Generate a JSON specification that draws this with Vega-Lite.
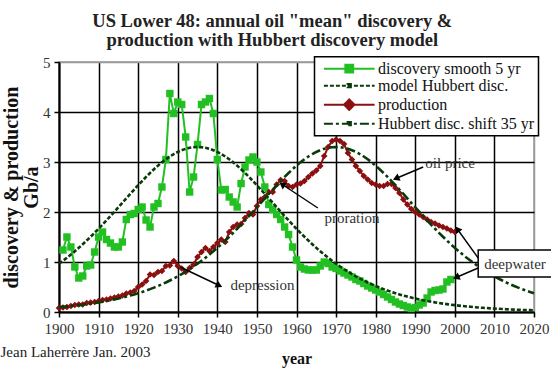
{
"$schema": "https://vega.github.io/schema/vega-lite/v6.json",
"width": 475, "height": 250,
"autosize": {"type": "none"},
"padding": {"left": 59, "top": 62, "right": 17, "bottom": 60},
"title": {"text": ["US Lower 48: annual oil \"mean\" discovery &", "production with Hubbert discovery model"], "font": "Liberation Serif", "fontSize": 18.5, "fontWeight": "bold", "color": "#222", "anchor": "middle", "frame": "bounds", "lineHeight": 19, "offset": 6, "dx": -4},
"datasets": {
"lines": [
{"s":"d","year":1901,"v":1.24},{"s":"d","year":1902,"v":1.5},{"s":"d","year":1903,"v":1.3},{"s":"d","year":1904,"v":0.9},{"s":"d","year":1905,"v":0.68},{"s":"d","year":1906,"v":0.72},{"s":"d","year":1907,"v":0.92},{"s":"d","year":1908,"v":0.94},{"s":"d","year":1909,"v":1.2},{"s":"d","year":1910,"v":1.5},
{"s":"d","year":1911,"v":1.6},{"s":"d","year":1912,"v":1.45},{"s":"d","year":1913,"v":1.38},{"s":"d","year":1914,"v":1.3},{"s":"d","year":1915,"v":1.3},{"s":"d","year":1916,"v":1.4},{"s":"d","year":1917,"v":1.85},{"s":"d","year":1918,"v":1.95},{"s":"d","year":1919,"v":1.97},{"s":"d","year":1920,"v":2.05},
{"s":"d","year":1921,"v":2.1},{"s":"d","year":1922,"v":1.84},{"s":"d","year":1923,"v":1.7},{"s":"d","year":1924,"v":2.1},{"s":"d","year":1925,"v":2.17},{"s":"d","year":1926,"v":2.5},{"s":"d","year":1927,"v":3.05},{"s":"d","year":1928,"v":4.37},{"s":"d","year":1929,"v":3.97},{"s":"d","year":1930,"v":4.2},
{"s":"d","year":1931,"v":4.15},{"s":"d","year":1932,"v":3.5},{"s":"d","year":1933,"v":2.4},{"s":"d","year":1934,"v":2.7},{"s":"d","year":1935,"v":3.35},{"s":"d","year":1936,"v":4.15},{"s":"d","year":1937,"v":4.2},{"s":"d","year":1938,"v":4.27},{"s":"d","year":1939,"v":3.97},{"s":"d","year":1940,"v":3.05},
{"s":"d","year":1941,"v":2.44},{"s":"d","year":1942,"v":2.45},{"s":"d","year":1943,"v":2.3},{"s":"d","year":1944,"v":2.2},{"s":"d","year":1945,"v":2.1},{"s":"d","year":1946,"v":2.57},{"s":"d","year":1947,"v":2.9},{"s":"d","year":1948,"v":3.04},{"s":"d","year":1949,"v":3.1},{"s":"d","year":1950,"v":3.0},
{"s":"d","year":1951,"v":2.8},{"s":"d","year":1952,"v":2.5},{"s":"d","year":1953,"v":2.15},{"s":"d","year":1954,"v":2.05},{"s":"d","year":1955,"v":1.95},{"s":"d","year":1956,"v":1.85},{"s":"d","year":1957,"v":1.7},{"s":"d","year":1958,"v":1.55},{"s":"d","year":1959,"v":1.3},{"s":"d","year":1960,"v":1.04},
{"s":"d","year":1961,"v":0.9},{"s":"d","year":1962,"v":0.86},{"s":"d","year":1963,"v":0.84},{"s":"d","year":1964,"v":0.84},{"s":"d","year":1965,"v":0.84},{"s":"d","year":1966,"v":0.92},{"s":"d","year":1967,"v":1.0},{"s":"d","year":1968,"v":0.97},{"s":"d","year":1969,"v":0.9},{"s":"d","year":1970,"v":0.87},
{"s":"d","year":1971,"v":0.82},{"s":"d","year":1972,"v":0.78},{"s":"d","year":1973,"v":0.74},{"s":"d","year":1974,"v":0.7},{"s":"d","year":1975,"v":0.65},{"s":"d","year":1976,"v":0.62},{"s":"d","year":1977,"v":0.57},{"s":"d","year":1978,"v":0.52},{"s":"d","year":1979,"v":0.48},{"s":"d","year":1980,"v":0.44},
{"s":"d","year":1981,"v":0.4},{"s":"d","year":1982,"v":0.35},{"s":"d","year":1983,"v":0.3},{"s":"d","year":1984,"v":0.25},{"s":"d","year":1985,"v":0.2},{"s":"d","year":1986,"v":0.16},{"s":"d","year":1987,"v":0.13},{"s":"d","year":1988,"v":0.1},{"s":"d","year":1989,"v":0.07},{"s":"d","year":1990,"v":0.09},
{"s":"d","year":1991,"v":0.14},{"s":"d","year":1992,"v":0.18},{"s":"d","year":1993,"v":0.28},{"s":"d","year":1994,"v":0.4},{"s":"d","year":1995,"v":0.43},{"s":"d","year":1996,"v":0.44},{"s":"d","year":1997,"v":0.46},{"s":"d","year":1998,"v":0.6},{"s":"d","year":1999,"v":0.65},
{"s":"p","year":1900,"v":0.08},{"s":"p","year":1901,"v":0.09},{"s":"p","year":1902,"v":0.1},{"s":"p","year":1903,"v":0.12},{"s":"p","year":1904,"v":0.14},{"s":"p","year":1905,"v":0.15},{"s":"p","year":1906,"v":0.15},{"s":"p","year":1907,"v":0.18},{"s":"p","year":1908,"v":0.19},{"s":"p","year":1909,"v":0.2},
{"s":"p","year":1910,"v":0.22},{"s":"p","year":1911,"v":0.24},{"s":"p","year":1912,"v":0.25},{"s":"p","year":1913,"v":0.27},{"s":"p","year":1914,"v":0.29},{"s":"p","year":1915,"v":0.31},{"s":"p","year":1916,"v":0.33},{"s":"p","year":1917,"v":0.37},{"s":"p","year":1918,"v":0.39},{"s":"p","year":1919,"v":0.42},
{"s":"p","year":1920,"v":0.5},{"s":"p","year":1921,"v":0.55},{"s":"p","year":1922,"v":0.62},{"s":"p","year":1923,"v":0.75},{"s":"p","year":1924,"v":0.74},{"s":"p","year":1925,"v":0.8},{"s":"p","year":1926,"v":0.82},{"s":"p","year":1927,"v":0.92},{"s":"p","year":1928,"v":0.93},{"s":"p","year":1929,"v":1.02},
{"s":"p","year":1930,"v":0.92},{"s":"p","year":1931,"v":0.87},{"s":"p","year":1932,"v":0.8},{"s":"p","year":1933,"v":0.88},{"s":"p","year":1934,"v":0.95},{"s":"p","year":1935,"v":1.1},{"s":"p","year":1936,"v":1.2},{"s":"p","year":1937,"v":1.28},{"s":"p","year":1938,"v":1.22},{"s":"p","year":1939,"v":1.3},
{"s":"p","year":1940,"v":1.38},{"s":"p","year":1941,"v":1.45},{"s":"p","year":1942,"v":1.4},{"s":"p","year":1943,"v":1.6},{"s":"p","year":1944,"v":1.7},{"s":"p","year":1945,"v":1.75},{"s":"p","year":1946,"v":1.76},{"s":"p","year":1947,"v":1.88},{"s":"p","year":1948,"v":1.98},{"s":"p","year":1949,"v":1.95},
{"s":"p","year":1950,"v":2.12},{"s":"p","year":1951,"v":2.25},{"s":"p","year":1952,"v":2.3},{"s":"p","year":1953,"v":2.4},{"s":"p","year":1954,"v":2.4},{"s":"p","year":1955,"v":2.55},{"s":"p","year":1956,"v":2.64},{"s":"p","year":1957,"v":2.62},{"s":"p","year":1958,"v":2.52},{"s":"p","year":1959,"v":2.5},
{"s":"p","year":1960,"v":2.55},{"s":"p","year":1961,"v":2.57},{"s":"p","year":1962,"v":2.62},{"s":"p","year":1963,"v":2.7},{"s":"p","year":1964,"v":2.77},{"s":"p","year":1965,"v":2.83},{"s":"p","year":1966,"v":2.92},{"s":"p","year":1967,"v":3.12},{"s":"p","year":1968,"v":3.3},{"s":"p","year":1969,"v":3.42},
{"s":"p","year":1970,"v":3.45},{"s":"p","year":1971,"v":3.42},{"s":"p","year":1972,"v":3.36},{"s":"p","year":1973,"v":3.18},{"s":"p","year":1974,"v":3.05},{"s":"p","year":1975,"v":2.92},{"s":"p","year":1976,"v":2.82},{"s":"p","year":1977,"v":2.72},{"s":"p","year":1978,"v":2.65},{"s":"p","year":1979,"v":2.58},
{"s":"p","year":1980,"v":2.55},{"s":"p","year":1981,"v":2.52},{"s":"p","year":1982,"v":2.52},{"s":"p","year":1983,"v":2.56},{"s":"p","year":1984,"v":2.56},{"s":"p","year":1985,"v":2.48},{"s":"p","year":1986,"v":2.38},{"s":"p","year":1987,"v":2.25},{"s":"p","year":1988,"v":2.15},{"s":"p","year":1989,"v":2.06},
{"s":"p","year":1990,"v":2.0},{"s":"p","year":1991,"v":1.95},{"s":"p","year":1992,"v":1.9},{"s":"p","year":1993,"v":1.85},{"s":"p","year":1994,"v":1.8},{"s":"p","year":1995,"v":1.77},{"s":"p","year":1996,"v":1.73},{"s":"p","year":1997,"v":1.7},{"s":"p","year":1998,"v":1.67},{"s":"p","year":1999,"v":1.63},{"s":"p","year":2000,"v":1.6},
{"s":"m","year":1900,"v":0.965},{"s":"m","year":1901,"v":1.024},{"s":"m","year":1902,"v":1.084},{"s":"m","year":1903,"v":1.148},{"s":"m","year":1904,"v":1.214},{"s":"m","year":1905,"v":1.283},{"s":"m","year":1906,"v":1.355},{"s":"m","year":1907,"v":1.429},{"s":"m","year":1908,"v":1.505},{"s":"m","year":1909,"v":1.584},
{"s":"m","year":1910,"v":1.665},{"s":"m","year":1911,"v":1.748},{"s":"m","year":1912,"v":1.833},{"s":"m","year":1913,"v":1.919},{"s":"m","year":1914,"v":2.006},{"s":"m","year":1915,"v":2.095},{"s":"m","year":1916,"v":2.184},{"s":"m","year":1917,"v":2.272},{"s":"m","year":1918,"v":2.361},{"s":"m","year":1919,"v":2.449},
{"s":"m","year":1920,"v":2.535},{"s":"m","year":1921,"v":2.619},{"s":"m","year":1922,"v":2.701},{"s":"m","year":1923,"v":2.78},{"s":"m","year":1924,"v":2.855},{"s":"m","year":1925,"v":2.927},{"s":"m","year":1926,"v":2.993},{"s":"m","year":1927,"v":3.054},{"s":"m","year":1928,"v":3.11},{"s":"m","year":1929,"v":3.159},
{"s":"m","year":1930,"v":3.201},{"s":"m","year":1931,"v":3.236},{"s":"m","year":1932,"v":3.264},{"s":"m","year":1933,"v":3.284},{"s":"m","year":1934,"v":3.296},{"s":"m","year":1935,"v":3.3},{"s":"m","year":1936,"v":3.296},{"s":"m","year":1937,"v":3.284},{"s":"m","year":1938,"v":3.264},{"s":"m","year":1939,"v":3.236},
{"s":"m","year":1940,"v":3.201},{"s":"m","year":1941,"v":3.159},{"s":"m","year":1942,"v":3.11},{"s":"m","year":1943,"v":3.054},{"s":"m","year":1944,"v":2.993},{"s":"m","year":1945,"v":2.927},{"s":"m","year":1946,"v":2.855},{"s":"m","year":1947,"v":2.78},{"s":"m","year":1948,"v":2.701},{"s":"m","year":1949,"v":2.619},
{"s":"m","year":1950,"v":2.535},{"s":"m","year":1951,"v":2.449},{"s":"m","year":1952,"v":2.361},{"s":"m","year":1953,"v":2.272},{"s":"m","year":1954,"v":2.184},{"s":"m","year":1955,"v":2.095},{"s":"m","year":1956,"v":2.006},{"s":"m","year":1957,"v":1.919},{"s":"m","year":1958,"v":1.833},{"s":"m","year":1959,"v":1.748},
{"s":"m","year":1960,"v":1.665},{"s":"m","year":1961,"v":1.584},{"s":"m","year":1962,"v":1.505},{"s":"m","year":1963,"v":1.429},{"s":"m","year":1964,"v":1.355},{"s":"m","year":1965,"v":1.283},{"s":"m","year":1966,"v":1.214},{"s":"m","year":1967,"v":1.148},{"s":"m","year":1968,"v":1.084},{"s":"m","year":1969,"v":1.024},
{"s":"m","year":1970,"v":0.965},{"s":"m","year":1971,"v":0.91},{"s":"m","year":1972,"v":0.857},{"s":"m","year":1973,"v":0.807},{"s":"m","year":1974,"v":0.759},{"s":"m","year":1975,"v":0.713},{"s":"m","year":1976,"v":0.67},{"s":"m","year":1977,"v":0.63},{"s":"m","year":1978,"v":0.591},{"s":"m","year":1979,"v":0.555},
{"s":"m","year":1980,"v":0.52},{"s":"m","year":1981,"v":0.488},{"s":"m","year":1982,"v":0.457},{"s":"m","year":1983,"v":0.428},{"s":"m","year":1984,"v":0.401},{"s":"m","year":1985,"v":0.376},{"s":"m","year":1986,"v":0.352},{"s":"m","year":1987,"v":0.329},{"s":"m","year":1988,"v":0.308},{"s":"m","year":1989,"v":0.288},
{"s":"m","year":1990,"v":0.269},{"s":"m","year":1991,"v":0.252},{"s":"m","year":1992,"v":0.235},{"s":"m","year":1993,"v":0.22},{"s":"m","year":1994,"v":0.206},{"s":"m","year":1995,"v":0.192},{"s":"m","year":1996,"v":0.18},{"s":"m","year":1997,"v":0.168},{"s":"m","year":1998,"v":0.157},{"s":"m","year":1999,"v":0.146},
{"s":"m","year":2000,"v":0.137},{"s":"m","year":2001,"v":0.128},{"s":"m","year":2002,"v":0.119},{"s":"m","year":2003,"v":0.111},{"s":"m","year":2004,"v":0.104},{"s":"m","year":2005,"v":0.097},{"s":"m","year":2006,"v":0.09},{"s":"m","year":2007,"v":0.084},{"s":"m","year":2008,"v":0.079},{"s":"m","year":2009,"v":0.073},
{"s":"m","year":2010,"v":0.068},{"s":"m","year":2011,"v":0.064},{"s":"m","year":2012,"v":0.06},{"s":"m","year":2013,"v":0.056},{"s":"m","year":2014,"v":0.052},{"s":"m","year":2015,"v":0.048},{"s":"m","year":2016,"v":0.045},{"s":"m","year":2017,"v":0.042},{"s":"m","year":2018,"v":0.039},{"s":"m","year":2019,"v":0.037},{"s":"m","year":2020,"v":0.034},
{"s":"h","year":1900,"v":0.097},{"s":"h","year":1901,"v":0.104},{"s":"h","year":1902,"v":0.111},{"s":"h","year":1903,"v":0.119},{"s":"h","year":1904,"v":0.128},{"s":"h","year":1905,"v":0.137},{"s":"h","year":1906,"v":0.146},{"s":"h","year":1907,"v":0.157},{"s":"h","year":1908,"v":0.168},{"s":"h","year":1909,"v":0.18},
{"s":"h","year":1910,"v":0.192},{"s":"h","year":1911,"v":0.206},{"s":"h","year":1912,"v":0.22},{"s":"h","year":1913,"v":0.235},{"s":"h","year":1914,"v":0.252},{"s":"h","year":1915,"v":0.269},{"s":"h","year":1916,"v":0.288},{"s":"h","year":1917,"v":0.308},{"s":"h","year":1918,"v":0.329},{"s":"h","year":1919,"v":0.352},
{"s":"h","year":1920,"v":0.376},{"s":"h","year":1921,"v":0.401},{"s":"h","year":1922,"v":0.428},{"s":"h","year":1923,"v":0.457},{"s":"h","year":1924,"v":0.488},{"s":"h","year":1925,"v":0.52},{"s":"h","year":1926,"v":0.555},{"s":"h","year":1927,"v":0.591},{"s":"h","year":1928,"v":0.63},{"s":"h","year":1929,"v":0.67},
{"s":"h","year":1930,"v":0.713},{"s":"h","year":1931,"v":0.759},{"s":"h","year":1932,"v":0.807},{"s":"h","year":1933,"v":0.857},{"s":"h","year":1934,"v":0.91},{"s":"h","year":1935,"v":0.965},{"s":"h","year":1936,"v":1.024},{"s":"h","year":1937,"v":1.084},{"s":"h","year":1938,"v":1.148},{"s":"h","year":1939,"v":1.214},
{"s":"h","year":1940,"v":1.283},{"s":"h","year":1941,"v":1.355},{"s":"h","year":1942,"v":1.429},{"s":"h","year":1943,"v":1.505},{"s":"h","year":1944,"v":1.584},{"s":"h","year":1945,"v":1.665},{"s":"h","year":1946,"v":1.748},{"s":"h","year":1947,"v":1.833},{"s":"h","year":1948,"v":1.919},{"s":"h","year":1949,"v":2.006},
{"s":"h","year":1950,"v":2.095},{"s":"h","year":1951,"v":2.184},{"s":"h","year":1952,"v":2.272},{"s":"h","year":1953,"v":2.361},{"s":"h","year":1954,"v":2.449},{"s":"h","year":1955,"v":2.535},{"s":"h","year":1956,"v":2.619},{"s":"h","year":1957,"v":2.701},{"s":"h","year":1958,"v":2.78},{"s":"h","year":1959,"v":2.855},
{"s":"h","year":1960,"v":2.927},{"s":"h","year":1961,"v":2.993},{"s":"h","year":1962,"v":3.054},{"s":"h","year":1963,"v":3.11},{"s":"h","year":1964,"v":3.159},{"s":"h","year":1965,"v":3.201},{"s":"h","year":1966,"v":3.236},{"s":"h","year":1967,"v":3.264},{"s":"h","year":1968,"v":3.284},{"s":"h","year":1969,"v":3.296},
{"s":"h","year":1970,"v":3.3},{"s":"h","year":1971,"v":3.296},{"s":"h","year":1972,"v":3.284},{"s":"h","year":1973,"v":3.264},{"s":"h","year":1974,"v":3.236},{"s":"h","year":1975,"v":3.201},{"s":"h","year":1976,"v":3.159},{"s":"h","year":1977,"v":3.11},{"s":"h","year":1978,"v":3.054},{"s":"h","year":1979,"v":2.993},
{"s":"h","year":1980,"v":2.927},{"s":"h","year":1981,"v":2.855},{"s":"h","year":1982,"v":2.78},{"s":"h","year":1983,"v":2.701},{"s":"h","year":1984,"v":2.619},{"s":"h","year":1985,"v":2.535},{"s":"h","year":1986,"v":2.449},{"s":"h","year":1987,"v":2.361},{"s":"h","year":1988,"v":2.272},{"s":"h","year":1989,"v":2.184},
{"s":"h","year":1990,"v":2.095},{"s":"h","year":1991,"v":2.006},{"s":"h","year":1992,"v":1.919},{"s":"h","year":1993,"v":1.833},{"s":"h","year":1994,"v":1.748},{"s":"h","year":1995,"v":1.665},{"s":"h","year":1996,"v":1.584},{"s":"h","year":1997,"v":1.505},{"s":"h","year":1998,"v":1.429},{"s":"h","year":1999,"v":1.355},
{"s":"h","year":2000,"v":1.283},{"s":"h","year":2001,"v":1.214},{"s":"h","year":2002,"v":1.148},{"s":"h","year":2003,"v":1.084},{"s":"h","year":2004,"v":1.024},{"s":"h","year":2005,"v":0.965},{"s":"h","year":2006,"v":0.91},{"s":"h","year":2007,"v":0.857},{"s":"h","year":2008,"v":0.807},{"s":"h","year":2009,"v":0.759},
{"s":"h","year":2010,"v":0.713},{"s":"h","year":2011,"v":0.67},{"s":"h","year":2012,"v":0.63},{"s":"h","year":2013,"v":0.591},{"s":"h","year":2014,"v":0.555},{"s":"h","year":2015,"v":0.52},{"s":"h","year":2016,"v":0.488},{"s":"h","year":2017,"v":0.457},{"s":"h","year":2018,"v":0.428},{"s":"h","year":2019,"v":0.401},{"s":"h","year":2020,"v":0.376}
],
"arrows": [
{"x1":1930.6,"y1":0.9,"x2":1940.2,"y2":0.54,"ang":115},
{"x1":1965.4,"y1":2.08,"x2":1956.6,"y2":2.54,"ang":304},
{"x1":1992,"y1":2.9,"x2":1985.4,"y2":2.68,"ang":247},
{"x1":2005.9,"y1":1.08,"x2":2000.8,"y2":1.64,"ang":324},
{"x1":2005.9,"y1":0.88,"x2":2000.6,"y2":0.7,"ang":247}
],
"box": [{"x1":2005.9,"x2":2024.5,"y1":0.7,"y2":1.24}],
"notes": [
{"t":"depression","year":1951.4,"v":0.54},
{"t":"proration","year":1974,"v":1.88},
{"t":"oil price","year":1998.8,"v":2.98},
{"t":"deepwater","year":2015.2,"v":0.97}
]
},
"resolve": {"axis": {"x": "independent"}},
"layer": [
{
"data": {"name": "lines"},
"transform": [{"filter": "datum.s == 'd'"}],
"mark": {"type": "point", "shape": "square", "filled": true, "size": 55, "color": "#22c022", "opacity": 1},
"encoding": {
"x": {"field": "year", "type": "quantitative", "scale": {"domain": [1900, 2020], "nice": false, "zero": false},
 "axis": {"title": "year", "titleFontSize": 16, "titleFontWeight": "bold", "titlePadding": 14, "values": [1900,1910,1920,1930,1940,1950,1960,1970,1980,1990,2000,2010,2020], "format": "d", "labelFlush": false, "labelOverlap": false, "labelPadding": 4, "gridColor": {"condition": {"test": "datum.value >= 2020", "value": "#999999"}, "value": "black"}}},
"y": {"field": "v", "type": "quantitative", "scale": {"domain": [0, 5], "nice": false},
 "axis": {"title": ["discovery & production", "Gb/a"], "titleFontSize": 20, "titleFontWeight": "bold", "titleLineHeight": 20, "titlePadding": 1, "values": [0,1,2,3,4,5], "format": "d", "labelPadding": 4, "gridColor": {"condition": {"test": "datum.value >= 5", "value": "#999999"}, "value": "black"}}}
}
},
{
"data": {"name": "lines"},
"transform": [{"filter": "datum.s == 'p'"}],
"mark": {"type": "point", "shape": "diamond", "filled": true, "size": 45, "color": "#8b1010", "opacity": 1},
"encoding": {
"x": {"field": "year", "type": "quantitative", "axis": null},
"y": {"field": "v", "type": "quantitative"}
}
},
{
"data": {"name": "lines"},
"transform": [{"filter": "datum.s == 'd' || datum.s == 'p'"}],
"mark": {"type": "line", "strokeWidth": 2},
"encoding": {
"x": {"field": "year", "type": "quantitative", "axis": null},
"y": {"field": "v", "type": "quantitative"},
"color": {"field": "s", "type": "nominal", "scale": {"domain": ["d","m","p","h"], "range": ["#22c022","#0a3a0a","#8b1010","#0a3a0a"]},
 "legend": {"title": null, "orient": "none", "legendX": 255.5, "legendY": -5.3, "fillColor": "white", "strokeColor": "black", "padding": 4, "labelFont": "Liberation Serif", "labelFontSize": 16, "labelColor": "#111", "labelOffset": 43.5, "labelLimit": 300, "symbolSize": 169, "symbolStrokeWidth": 2, "rowPadding": 1,
  "labelExpr": "datum.value == 'd' ? 'discovery smooth 5 yr' : datum.value == 'm' ? 'model Hubbert disc.' : datum.value == 'p' ? 'production' : 'Hubbert disc. shift 35 yr'",
  "encode": {"symbols": {"update": {"shape": {"signal": "datum.value == 'd' ? 'M-0.4,0H7.4M2.9,-0.6H4.1V0.6H2.9Z' : datum.value == 'p' ? 'M-0.4,0H7.4M3.5,-0.8L4.3,0L3.5,0.8L2.7,0Z' : 'M-0.4,0H7.4M3.25,-0.25H3.75V0.25H3.25Z'"}, "fill": {"scale": "color", "field": "value"}}}, "legend": {"update": {"strokeWidth": {"value": 1.5}}}}}},
"strokeDash": {"field": "s", "type": "nominal", "scale": {"domain": ["d","m","p","h"], "range": [[1,0],[4,2],[1,0],[9,3,3,3]]},
 "legend": {"title": null, "orient": "none", "legendX": 255.5, "legendY": -5.3, "fillColor": "white", "strokeColor": "black", "padding": 4, "labelFont": "Liberation Serif", "labelFontSize": 16, "labelColor": "#111", "labelOffset": 43.5, "labelLimit": 300, "symbolSize": 169, "symbolStrokeWidth": 2, "rowPadding": 1,
  "labelExpr": "datum.value == 'd' ? 'discovery smooth 5 yr' : datum.value == 'm' ? 'model Hubbert disc.' : datum.value == 'p' ? 'production' : 'Hubbert disc. shift 35 yr'",
  "encode": {"symbols": {"update": {"shape": {"signal": "datum.value == 'd' ? 'M-0.4,0H7.4M2.9,-0.6H4.1V0.6H2.9Z' : datum.value == 'p' ? 'M-0.4,0H7.4M3.5,-0.8L4.3,0L3.5,0.8L2.7,0Z' : 'M-0.4,0H7.4M3.25,-0.25H3.75V0.25H3.25Z'"}, "fill": {"scale": "color", "field": "value"}}}, "legend": {"update": {"strokeWidth": {"value": 1.5}}}}}}
}
},
{
"data": {"name": "lines"},
"transform": [{"filter": "datum.s == 'm' || datum.s == 'h'"}],
"mark": {"type": "line", "strokeWidth": 2.6},
"encoding": {
"x": {"field": "year", "type": "quantitative", "axis": null},
"y": {"field": "v", "type": "quantitative"},
"color": {"field": "s", "type": "nominal", "legend": null},
"strokeDash": {"field": "s", "type": "nominal", "legend": null}
}
},
{
"data": {"name": "arrows"},
"mark": {"type": "rule", "color": "black", "strokeWidth": 1.4},
"encoding": {
"x": {"field": "x1", "type": "quantitative", "axis": null},
"y": {"field": "y1", "type": "quantitative"},
"x2": {"field": "x2"},
"y2": {"field": "y2"}
}
},
{
"data": {"name": "arrows"},
"mark": {"type": "point", "shape": "triangle", "filled": true, "size": 60, "color": "black", "opacity": 1},
"encoding": {
"x": {"field": "x2", "type": "quantitative", "axis": null},
"y": {"field": "y2", "type": "quantitative"},
"angle": {"field": "ang", "type": "quantitative", "scale": null}
}
},
{
"data": {"name": "box"},
"mark": {"type": "rect", "fill": "white", "stroke": "black", "strokeWidth": 1.5, "clip": false},
"encoding": {
"x": {"field": "x1", "type": "quantitative", "axis": null},
"x2": {"field": "x2"},
"y": {"field": "y1", "type": "quantitative"},
"y2": {"field": "y2"}
}
},
{
"data": {"name": "notes"},
"mark": {"type": "text", "font": "Liberation Serif", "fontSize": 15, "color": "#333", "align": "center", "baseline": "middle"},
"encoding": {
"x": {"field": "year", "type": "quantitative",
 "axis": {"orient": "bottom", "title": "Jean Laherrère Jan. 2003", "titleX": -59, "titleY": 44, "titleAlign": "left", "titleAnchor": "start", "titleBaseline": "alphabetic", "titleFontWeight": "normal", "titleFontSize": 15, "titleColor": "#222", "labels": false, "ticks": false, "domain": false, "grid": false}},
"y": {"field": "v", "type": "quantitative"},
"text": {"field": "t"}
}
}
],
"config": {
"font": "Liberation Serif",
"view": {"stroke": "#999999", "strokeWidth": 1.5},
"legend": {"labelFont": "Liberation Serif", "labelFontSize": 16},
"axis": {"labelFont": "Liberation Serif", "labelFontSize": 15, "labelColor": "#333", "titleFont": "Liberation Serif", "titleColor": "#111", "domainColor": "black", "domainWidth": 2, "tickColor": "black", "tickWidth": 1.5, "tickSize": 5, "gridWidth": 1.5}
}
}
